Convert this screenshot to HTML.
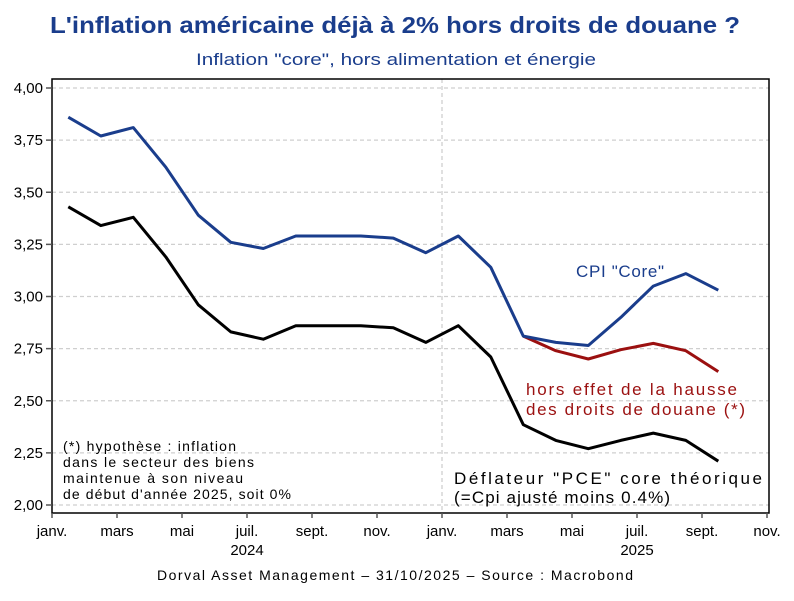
<!DOCTYPE html>
<html><head><meta charset="utf-8"><style>
body{margin:0;background:#fff;}
svg text{font-family:"Liberation Sans",sans-serif;}
</style></head><body>
<svg width="794" height="596" xmlns="http://www.w3.org/2000/svg" id="chart">
<text x="50" y="33" textLength="690" lengthAdjust="spacingAndGlyphs" font-size="23" font-weight="bold" fill="#1a3d8c">L'inflation américaine déjà à 2% hors droits de douane ?</text>
<text x="196" y="65" textLength="400" lengthAdjust="spacingAndGlyphs" font-size="17" fill="#1a3d8c">Inflation "core", hors alimentation et énergie</text>
<g id="grid"></g>
<rect x="52" y="79" width="717" height="434" fill="none" stroke="#000" stroke-width="1.5"/>
<g id="axes"></g>
<g id="series"></g>
<text x="576" y="277" textLength="88" font-size="17" fill="#1a3d8c">CPI "Core"</text>
<text x="526" y="395" textLength="211" font-size="17" fill="#9b1010">hors effet de la hausse</text>
<text x="526" y="415" textLength="219" font-size="17" fill="#9b1010">des droits de douane (*)</text>
<text x="454" y="484" textLength="308" font-size="17" fill="#000">Déflateur "PCE" core théorique</text>
<text x="454" y="503" textLength="216" font-size="17" fill="#000">(=Cpi ajusté moins 0.4%)</text>
<g font-size="14" fill="#000">
<text x="63" y="451" textLength="173">(*) hypothèse : inflation</text>
<text x="63" y="467" textLength="191">dans le secteur des biens</text>
<text x="63" y="483" textLength="180">maintenue à son niveau</text>
<text x="63" y="499" textLength="228">de début d'année 2025, soit 0%</text>
</g>
<text x="157" y="580" textLength="476" font-size="14" fill="#000">Dorval Asset Management – 31/10/2025 –   Source : Macrobond</text>
</svg>
<script>
const yTicks=[2.00,2.25,2.50,2.75,3.00,3.25,3.50,3.75,4.00];
const monthLabels=["janv.","mars","mai","juil.","sept.","nov.","janv.","mars","mai","juil.","sept.","nov."];
const cpiCore=[3.86,3.77,3.81,3.62,3.39,3.26,3.23,3.29,3.29,3.29,3.28,3.21,3.29,3.14,2.81,2.78,2.765,2.90,3.05,3.11,3.03];
const horsTarifs=[2.81,2.74,2.70,2.745,2.775,2.74,2.64];
const pceTheo=[3.43,3.34,3.38,3.19,2.96,2.83,2.795,2.86,2.86,2.86,2.85,2.78,2.86,2.71,2.385,2.31,2.27,2.31,2.345,2.31,2.21];
const horsStart=14;
const NS="http://www.w3.org/2000/svg";
const xM=m=>52+32.5*m;
const yV=v=>505-(v-2)*208.5;
function mk(t,a,p){const e=document.createElementNS(NS,t);for(const k in a)e.setAttribute(k,a[k]);p.appendChild(e);return e;}
const grid=document.getElementById('grid'),axes=document.getElementById('axes'),ser=document.getElementById('series');
yTicks.forEach(v=>{
 const l=mk('line',{x1:52,x2:769,y1:yV(v),y2:yV(v),stroke:'#cfcfcf','stroke-dasharray':'4 3','stroke-width':1.3},grid);
 
 
 const tk=mk('line',{x1:46,x2:52,y1:yV(v),y2:yV(v),stroke:'#555','stroke-width':1.5},axes);
 
 
 const t=mk('text',{x:43,y:yV(v)+5,'text-anchor':'end','font-size':15},axes);
 t.textContent=v.toFixed(2).replace('.',',');
 
 
});
const vl=mk('line',{x1:xM(12),x2:xM(12),y1:79,y2:513,stroke:'#cfcfcf','stroke-dasharray':'4 3','stroke-width':1.3},grid);


monthLabels.forEach((s,i)=>{
 const x=xM(i*2);
 const tk=mk('line',{x1:x,x2:x,y1:513,y2:518,stroke:'#555','stroke-width':1.5},axes);
 
 
 const t=mk('text',{x:x,y:536,'text-anchor':'middle','font-size':15},axes);
 t.textContent=s;
 
 
});
[["2024",6],["2025",18]].forEach(([s,m])=>{
 const t=mk('text',{x:xM(m),y:555,'text-anchor':'middle','font-size':15},axes);
 t.textContent=s;
 
 
});
function line(vals,start,color,name){
 const d=vals.map((v,i)=>(i?'L':'M')+xM(start+i+0.5).toFixed(1)+' '+yV(v).toFixed(1)).join(' ');
 const p=mk('path',{d:d,fill:'none',stroke:color,'stroke-width':3,'stroke-linejoin':'round'},ser);
 
 
}
line(pceTheo,0,'#000','line-pce-theorique');
line(horsTarifs,horsStart,'#9b1010','line-hors-droits');
line(cpiCore,0,'#1a3d8c','line-cpi-core');
</script>
</body></html>
